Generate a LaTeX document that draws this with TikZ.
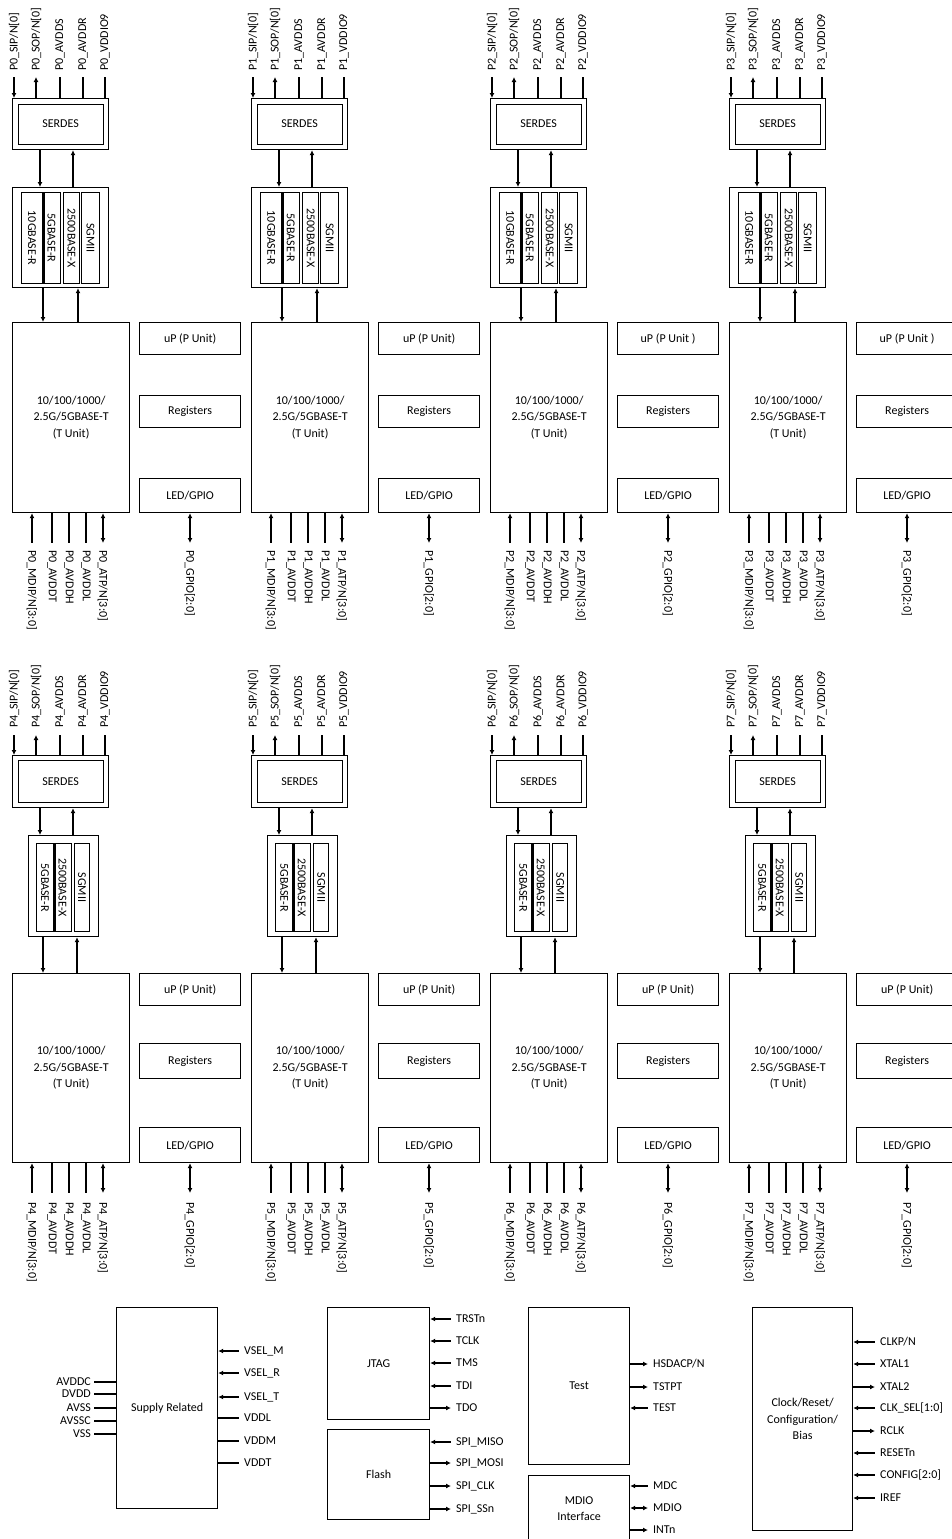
\documentclass[tikz,border=0pt]{standalone}
\usepackage{fontspec}
\setmainfont{Carlito}
\usetikzlibrary{arrows.meta}
\newcommand\fs{\fontsize{12}{16.5}\selectfont}
\tikzset{
 box/.style={draw,line width=1.2pt,inner sep=0pt,anchor=north west,font=\fs,align=center},
 lbl/.style={font=\fs,inner sep=1pt},
 wire/.style={line width=1.2pt},
 arr/.style={wire,-{Latex[length=5pt,width=5pt]}},
 rarr/.style={wire,{Latex[length=5pt,width=5pt]}-},
 barr/.style={wire,{Latex[length=5pt,width=5pt]}-{Latex[length=5pt,width=5pt]}},
}
% name, x, y (north west), width, height, text
\newcommand\bx[6]{\node[box,minimum width=#4pt,minimum height=#5pt] (#1) at (#2,#3) {#6};}
% PCS lane box with rotated text
\newcommand\pcs[6]{\node[box,minimum width=#4pt,minimum height=#5pt] (#1) at (#2,#3) {};
  \node[font=\fs,rotate=-90,inner sep=0pt] (#1t) at (#1.center) {#6};}
% pin above a box: name, x, y of line top, y of label start, target, style, text
\newcommand\uppin[7]{\coordinate (#1) at (#2,#3);
  \node[lbl,rotate=90,anchor=west] (#1l) at (#2,#4) {#7};
  \draw[#6] (#1) -- (#5.north -| #1);}
% pin below a box
\newcommand\dnpin[7]{\coordinate (#1) at (#2,#3);
  \node[lbl,rotate=-90,anchor=west] (#1l) at (#2,#4) {#7};
  \draw[#6] (#5.south -| #1) -- (#1);}
% pin right of a box: box, name, y, x end, style, text
\newcommand\rpin[6]{\coordinate (#2) at (#4,#3);
  \node[lbl,anchor=west] (#2l) at (#4+4,#3) {#6};
  \draw[#5] (#1.east |- #2) -- (#2);}
% pin left of a box
\newcommand\lpin[6]{\coordinate (#2) at (#4,#3);
  \node[lbl,anchor=east] (#2l) at (#4-2,#3) {#6};
  \draw[#5] (#1.west |- #2) -- (#2);}
\begin{document}
\begin{tikzpicture}[x=1pt,y=-1pt]
\useasboundingbox (0,0) rectangle (952,1539);
\clip (0,0) rectangle (952,1539);
\fill[white] (0,0) rectangle (952,1539);

% ---------------- top row: ports 0-3 ----------------
\foreach \i/\ox/\ue in {0/0/{uP (P Unit)},1/239/{uP (P Unit)},2/478/{uP (P Unit )},3/717/{uP (P Unit )}}{
  \bx{s\i}{\ox+12}{98}{96}{51}{}
  \node[box,anchor=center,minimum width=85pt,minimum height=40pt] (si\i) at (s\i.center) {SERDES};
  \uppin{pa\i}{\ox+14}{77}{72}{s\i}{arr}{P\i\_SIP/N[0]}
  \uppin{pb\i}{\ox+36}{77}{72}{s\i}{rarr}{P\i\_SOP/N[0]}
  \uppin{pc\i}{\ox+60}{77}{72}{s\i}{wire}{P\i\_AVDDS}
  \uppin{pd\i}{\ox+83}{77}{72}{s\i}{wire}{P\i\_AVDDR}
  \uppin{pe\i}{\ox+105}{77}{72}{s\i}{wire}{P\i\_VDDIO9}
  \bx{c\i}{\ox+12}{187}{96}{100}{}
  \pcs{ca\i}{\ox+21}{192}{21}{91}{10GBASE-R}
  \pcs{cb\i}{\ox+42}{192}{18}{91}{5GBASE-R}
  \pcs{cc\i}{\ox+63}{192}{16}{91}{2500BASE-X}
  \pcs{cd\i}{\ox+81}{192}{18}{91}{SGMII}
  \draw[line width=3pt] (ca\i.north east) -- (ca\i.south east);
  \coordinate (xa\i) at (\ox+40,0);
  \coordinate (xb\i) at (\ox+73,0);
  \draw[arr] (s\i.south -| xa\i) -- (c\i.north -| xa\i);
  \draw[arr] (c\i.north -| xb\i) -- (s\i.south -| xb\i);
  \bx{t\i}{\ox+12}{322}{117}{190}{10/100/1000/\\2.5G/5GBASE-T\\(T Unit)}
  \coordinate (xc\i) at (\ox+43,0);
  \coordinate (xd\i) at (\ox+78,0);
  \draw[arr] (c\i.south -| xc\i) -- (t\i.north -| xc\i);
  \draw[arr] (t\i.north -| xd\i) -- (c\i.south -| xd\i);
  \bx{u\i}{\ox+139}{322}{101}{32}{\ue}
  \bx{r\i}{\ox+139}{395}{101}{32}{Registers}
  \bx{g\i}{\ox+139}{478}{101}{34}{LED/GPIO}
  \dnpin{qa\i}{\ox+32}{543}{549}{t\i}{rarr}{P\i\_MDIP/N[3:0]}
  \dnpin{qb\i}{\ox+52}{543}{549}{t\i}{wire}{P\i\_AVDDT}
  \dnpin{qc\i}{\ox+69}{543}{549}{t\i}{wire}{P\i\_AVDDH}
  \dnpin{qd\i}{\ox+86}{543}{549}{t\i}{wire}{P\i\_AVDDL}
  \dnpin{qe\i}{\ox+103}{543}{549}{t\i}{barr}{P\i\_ATP/N[3:0]}
  \dnpin{qg\i}{\ox+190}{543}{549}{g\i}{barr}{P\i\_GPIO[2:0]}
}

% ---------------- bottom row: ports 4-7 ----------------
\foreach \i/\ox in {4/0,5/239,6/478,7/717}{
  \bx{s\i}{\ox+12}{755}{96}{52}{}
  \node[box,anchor=center,minimum width=85pt,minimum height=42pt] (si\i) at (s\i.center) {SERDES};
  \uppin{pa\i}{\ox+14}{735}{729}{s\i}{arr}{P\i\_SIP/N[0]}
  \uppin{pb\i}{\ox+36}{735}{729}{s\i}{rarr}{P\i\_SOP/N[0]}
  \uppin{pc\i}{\ox+60}{735}{729}{s\i}{wire}{P\i\_AVDDS}
  \uppin{pd\i}{\ox+83}{735}{729}{s\i}{wire}{P\i\_AVDDR}
  \uppin{pe\i}{\ox+105}{735}{729}{s\i}{wire}{P\i\_VDDIO9}
  \bx{c\i}{\ox+28}{835}{70}{101}{}
  \pcs{ca\i}{\ox+36}{843}{17}{88}{5GBASE-R}
  \pcs{cb\i}{\ox+53}{843}{18}{88}{2500BASE-X}
  \pcs{cc\i}{\ox+74}{843}{15}{88}{SGMII}
  \draw[line width=3pt] (ca\i.north east) -- (ca\i.south east);
  \coordinate (xa\i) at (\ox+40,0);
  \coordinate (xb\i) at (\ox+73,0);
  \draw[arr] (s\i.south -| xa\i) -- (c\i.north -| xa\i);
  \draw[arr] (c\i.north -| xb\i) -- (s\i.south -| xb\i);
  \bx{t\i}{\ox+12}{973}{117}{189}{10/100/1000/\\2.5G/5GBASE-T\\(T Unit)}
  \coordinate (xc\i) at (\ox+43,0);
  \coordinate (xd\i) at (\ox+77,0);
  \draw[arr] (c\i.south -| xc\i) -- (t\i.north -| xc\i);
  \draw[arr] (t\i.north -| xd\i) -- (c\i.south -| xd\i);
  \bx{u\i}{\ox+139}{973}{101}{32}{uP (P Unit)}
  \bx{r\i}{\ox+139}{1043}{101}{35}{Registers}
  \bx{g\i}{\ox+139}{1127}{101}{35}{LED/GPIO}
  \dnpin{qa\i}{\ox+32}{1193}{1201}{t\i}{rarr}{P\i\_MDIP/N[3:0]}
  \dnpin{qb\i}{\ox+52}{1193}{1201}{t\i}{wire}{P\i\_AVDDT}
  \dnpin{qc\i}{\ox+69}{1193}{1201}{t\i}{wire}{P\i\_AVDDH}
  \dnpin{qd\i}{\ox+86}{1193}{1201}{t\i}{wire}{P\i\_AVDDL}
  \dnpin{qe\i}{\ox+103}{1193}{1201}{t\i}{barr}{P\i\_ATP/N[3:0]}
  \dnpin{qg\i}{\ox+190}{1193}{1201}{g\i}{barr}{P\i\_GPIO[2:0]}
}

% ---------------- supply ----------------
\bx{sup}{116}{1307}{101}{201}{Supply Related}
\lpin{sup}{la}{1382}{94}{wire}{AVDDC}
\lpin{sup}{lb}{1394}{94}{wire}{DVDD}
\lpin{sup}{lc}{1408}{94}{wire}{AVSS}
\lpin{sup}{ld}{1421}{94}{wire}{AVSSC}
\lpin{sup}{le}{1434}{94}{wire}{VSS}
\rpin{sup}{ra}{1351}{239}{rarr}{VSEL\_M}
\rpin{sup}{rb}{1373}{239}{rarr}{VSEL\_R}
\rpin{sup}{rc}{1397}{239}{rarr}{VSEL\_T}
\rpin{sup}{rd}{1418}{239}{wire}{VDDL}
\rpin{sup}{re}{1441}{239}{wire}{VDDM}
\rpin{sup}{rf}{1463}{239}{wire}{VDDT}

% ---------------- JTAG / Flash ----------------
\bx{jtag}{327}{1307}{102}{112}{JTAG}
\rpin{jtag}{ja}{1319}{451}{rarr}{TRSTn}
\rpin{jtag}{jb}{1341}{451}{rarr}{TCLK}
\rpin{jtag}{jc}{1363}{451}{rarr}{TMS}
\rpin{jtag}{jd}{1386}{451}{rarr}{TDI}
\rpin{jtag}{je}{1408}{451}{arr}{TDO}
\bx{flash}{327}{1429}{102}{90}{Flash}
\rpin{flash}{fa}{1442}{451}{rarr}{SPI\_MISO}
\rpin{flash}{fb}{1463}{451}{arr}{SPI\_MOSI}
\rpin{flash}{fc}{1486}{451}{arr}{SPI\_CLK}
\rpin{flash}{fd}{1509}{451}{arr}{SPI\_SSn}

% ---------------- Test / MDIO ----------------
\bx{test}{528}{1307}{101}{157}{Test}
\rpin{test}{ta}{1364}{648}{arr}{HSDACP/N}
\rpin{test}{tb}{1387}{648}{arr}{TSTPT}
\rpin{test}{tc}{1408}{648}{rarr}{TEST}
\bx{mdio}{528}{1475}{101}{66}{MDIO\\Interface}
\rpin{mdio}{ma}{1486}{648}{rarr}{MDC}
\rpin{mdio}{mb}{1508}{648}{barr}{MDIO}
\rpin{mdio}{mc}{1530}{648}{arr}{INTn}

% ---------------- Clock ----------------
\bx{clk}{752}{1307}{100}{223}{Clock/Reset/\\Configuration/\\Bias}
\rpin{clk}{ka}{1342}{875}{rarr}{CLKP/N}
\rpin{clk}{kb}{1364}{875}{rarr}{XTAL1}
\rpin{clk}{kc}{1387}{875}{arr}{XTAL2}
\rpin{clk}{kd}{1408}{875}{rarr}{CLK\_SEL[1:0]}
\rpin{clk}{ke}{1431}{875}{arr}{RCLK}
\rpin{clk}{kf}{1453}{875}{rarr}{RESETn}
\rpin{clk}{kg}{1475}{875}{rarr}{CONFIG[2:0]}
\rpin{clk}{kh}{1498}{875}{rarr}{IREF}
\end{tikzpicture}
\end{document}
